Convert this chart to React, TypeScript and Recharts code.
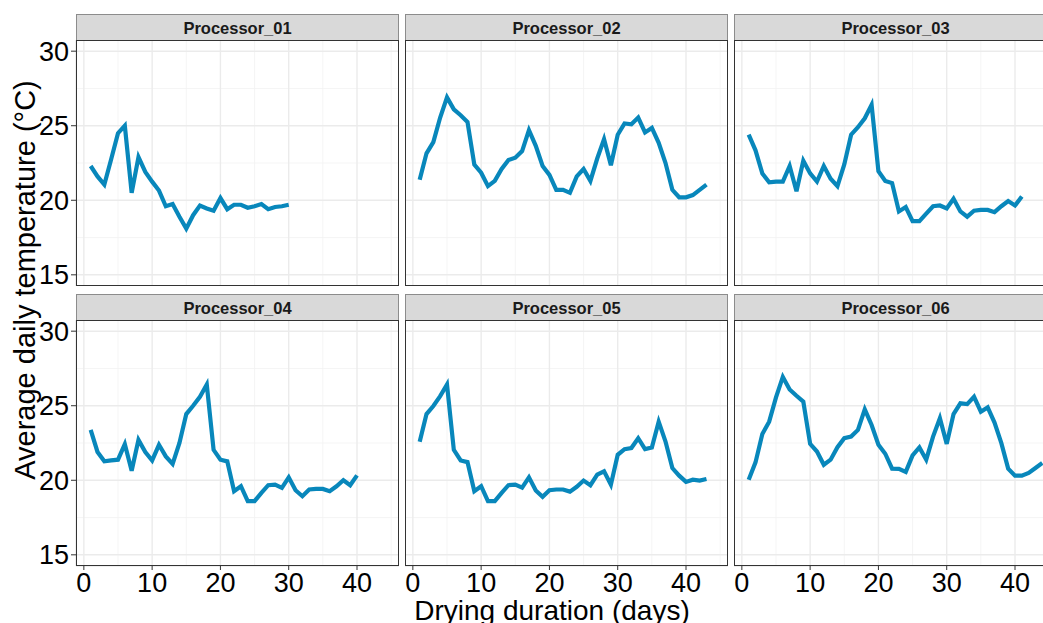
import React from 'react';
import { LineChart, Line, XAxis, YAxis, CartesianGrid } from 'recharts';

// daily mean temperature per processor, day 1..n
const P01 = [22.3, 21.6, 21.05, 22.75, 24.5, 25.0, 20.5, 22.9, 21.9, 21.25, 20.65, 19.6, 19.75, 18.9, 18.1,
  19.0, 19.65, 19.45, 19.3, 20.15, 19.4, 19.7, 19.7, 19.5, 19.6, 19.75, 19.4, 19.55, 19.6, 19.7];
const P02 = [21.37, 23.15, 23.9, 25.55, 26.9, 26.1, 25.7, 25.25, 22.4, 21.85, 20.95, 21.3, 22.1, 22.7, 22.85,
  23.3, 24.7, 23.65, 22.3, 21.7, 20.7, 20.7, 20.5, 21.6, 22.1, 21.3, 22.8, 24.1, 22.35, 24.4,
  25.15, 25.1, 25.55, 24.55, 24.85, 23.85, 22.5, 20.7, 20.2, 20.2, 20.35, 20.7, 21.05];
const P03 = [24.4, 23.35, 21.8, 21.2, 21.25, 21.25, 22.3, 20.6, 22.65, 21.8, 21.25, 22.3, 21.45, 20.95, 22.4,
  24.4, 24.9, 25.5, 26.4, 21.95, 21.3, 21.15, 19.25, 19.55, 18.6, 18.6, 19.1, 19.6, 19.65, 19.45,
  20.1, 19.25, 18.9, 19.3, 19.35, 19.35, 19.2, 19.6, 19.95, 19.65, 20.25];
const P04 = [23.38, 21.9, 21.27, 21.33, 21.38, 22.42, 20.64, 22.71, 21.9, 21.33, 22.38, 21.6, 21.1, 22.5, 24.44,
  25.0, 25.6, 26.42, 22.04, 21.38, 21.27, 19.27, 19.6, 18.6, 18.6, 19.16, 19.67, 19.71, 19.49, 20.2,
  19.33, 18.93, 19.38, 19.42, 19.42, 19.27, 19.6, 20.0, 19.67, 20.33];
const P05 = [22.58, 24.44, 24.98, 25.64, 26.42, 22.04, 21.33, 21.22, 19.27, 19.6, 18.6, 18.6, 19.16, 19.67, 19.71,
  19.51, 20.2, 19.31, 18.89, 19.33, 19.38, 19.38, 19.24, 19.56, 19.98, 19.67, 20.38, 20.6, 19.71, 21.71,
  22.09, 22.16, 22.82, 22.09, 22.2, 23.93, 22.6, 20.82, 20.31, 19.89, 20.04, 19.98, 20.09];
const P06 = [20.04, 21.2, 23.11, 23.93, 25.56, 26.93, 26.09, 25.67, 25.27, 22.44, 21.93, 21.04, 21.38, 22.22, 22.82,
  22.93, 23.38, 24.76, 23.71, 22.38, 21.78, 20.78, 20.76, 20.56, 21.67, 22.2, 21.38, 22.93, 24.16, 22.44,
  24.44, 25.16, 25.11, 25.6, 24.6, 24.89, 23.87, 22.49, 20.78, 20.31, 20.31, 20.49, 20.82, 21.16];

const PROCESSORS = ['Processor_01', 'Processor_02', 'Processor_03', 'Processor_04', 'Processor_05', 'Processor_06'];
const SERIES = [P01, P02, P03, P04, P05, P06];

const X_TICKS = [0, 10, 20, 30, 40];
const X_MINOR = [5, 15, 25, 35, 45];
const Y_TICKS = [15, 20, 25, 30];
const Y_MINOR = [17.5, 22.5, 27.5];
const X_DOMAIN = [-1.15, 46.15];
const Y_DOMAIN = [14.25, 30.75];

const LINE_COLOR = '#0887bb';
const FONT = 'Arial, "Liberation Sans", sans-serif';

const COL_LEFT = [76, 405, 734];
const STRIP_TOP = [14, 294];
const STRIP_H = 26;
const PLOT_W = 323;
const PLOT_H = 246;
const Y_AXIS_W = 76;
const X_AXIS_H = 50;

const Panel: React.FC<{ index: number }> = ({ index }) => {
  const col = index % 3;
  const row = Math.floor(index / 3);
  const showY = col === 0;
  const showX = row === 1;
  const plotLeft = COL_LEFT[col];
  const plotTop = STRIP_TOP[row] + STRIP_H;
  const data = SERIES[index].map((v, i) => ({ day: i + 1, temp: v }));

  return (
    <>
      <div
        style={{
          position: 'absolute',
          left: plotLeft,
          top: STRIP_TOP[row],
          width: PLOT_W,
          height: STRIP_H,
          boxSizing: 'border-box',
          background: '#d9d9d9',
          border: '1px solid #8c8c8c',
          borderBottom: 'none',
          textAlign: 'center',
          lineHeight: `${STRIP_H}px`,
          fontWeight: 'bold',
          fontSize: 16.5,
          color: '#1a1a1a',
        }}
      >
        {PROCESSORS[index]}
      </div>
      <div style={{ position: 'absolute', left: showY ? plotLeft - Y_AXIS_W : plotLeft, top: plotTop }}>
        <LineChart
          width={PLOT_W + (showY ? Y_AXIS_W : 0)}
          height={PLOT_H + (showX ? X_AXIS_H : 0)}
          data={data}
          margin={{ top: 0, right: 0, bottom: 0, left: 0 }}
        >
          {/* minor grid lines come from a pair of hidden axes */}
          <CartesianGrid xAxisId="minor" yAxisId="minor" stroke="#f3f3f3" strokeWidth={0.8} />
          <CartesianGrid stroke="#ebebeb" strokeWidth={1.4} />
          <XAxis xAxisId="minor" dataKey="day" type="number" domain={X_DOMAIN} ticks={X_MINOR} allowDataOverflow hide />
          <YAxis yAxisId="minor" type="number" domain={Y_DOMAIN} ticks={Y_MINOR} allowDataOverflow hide />
          <XAxis
            dataKey="day"
            type="number"
            domain={X_DOMAIN}
            ticks={X_TICKS}
            allowDataOverflow
            hide={!showX}
            height={X_AXIS_H}
            axisLine={false}
            tickLine={{ stroke: '#333' }}
            tickSize={4}
            tickMargin={3}
            tick={{ fill: '#000', fontSize: 27, fontFamily: FONT }}
            interval={0}
          />
          <YAxis
            type="number"
            domain={Y_DOMAIN}
            ticks={Y_TICKS}
            allowDataOverflow
            hide={!showY}
            width={Y_AXIS_W}
            axisLine={false}
            tickLine={{ stroke: '#333' }}
            tickSize={5}
            tickMargin={2}
            tick={{ fill: '#000', fontSize: 27, fontFamily: FONT }}
            interval={0}
          />
          <Line
            type="linear"
            dataKey="temp"
            stroke={LINE_COLOR}
            strokeWidth={4.2}
            dot={false}
            isAnimationActive={false}
          />
        </LineChart>
      </div>
      <div
        style={{
          position: 'absolute',
          left: plotLeft,
          top: plotTop,
          width: PLOT_W,
          height: PLOT_H,
          boxSizing: 'border-box',
          border: '1px solid #333',
          pointerEvents: 'none',
        }}
      />
    </>
  );
};

export default function App() {
  return (
    <div
      style={{
        position: 'absolute',
        left: 0,
        top: 0,
        width: 1043,
        height: 623,
        overflow: 'hidden',
        background: '#fff',
        fontFamily: FONT,
      }}
    >
      {PROCESSORS.map((_, i) => (
        <Panel key={i} index={i} />
      ))}
      <div
        style={{
          position: 'absolute',
          left: 25 - 210,
          top: 280 - 15,
          width: 420,
          height: 30,
          lineHeight: '30px',
          textAlign: 'center',
          fontSize: 29,
          color: '#000',
          transform: 'rotate(-90deg)',
        }}
      >
        Average daily temperature (°C)
      </div>
      <div
        style={{
          position: 'absolute',
          left: 552 - 200,
          top: 597,
          width: 400,
          lineHeight: '28px',
          textAlign: 'center',
          fontSize: 28,
          color: '#000',
        }}
      >
        Drying duration (days)
      </div>
    </div>
  );
}
